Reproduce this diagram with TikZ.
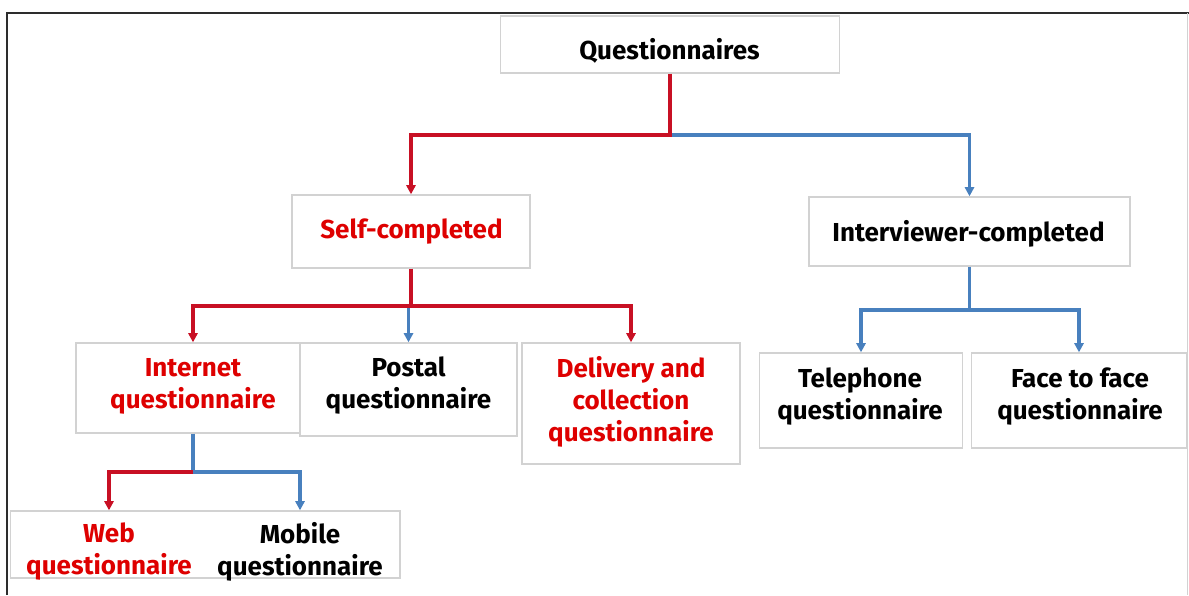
\documentclass[tikz,border=0pt]{standalone}
\usepackage{fontspec}
\setmainfont{Fira Sans}
\usetikzlibrary{arrows.meta}
\definecolor{linered}{RGB}{200,16,36}
\definecolor{lineblue}{RGB}{72,128,190}
\definecolor{textred}{RGB}{222,0,0}
\definecolor{boxgray}{RGB}{210,210,210}
\definecolor{framegray}{RGB}{45,45,45}
\newcommand\pxl[1]{#1*0.5pt}

\begin{document}
\begin{tikzpicture}[x=0.5pt,y=-0.5pt,
  box/.style={draw=boxgray, line width=0.7pt, fill=white, inner sep=0pt},
  lbl/.style={font=\fontsize{13}{16}\selectfont\bfseries, align=center, inner sep=0pt, text=black},
  redlbl/.style={lbl, text=textred},
  conn/.style={line width=1.6pt, line join=miter},
  redline/.style={conn, draw=linered},
  blueline/.style={conn, draw=lineblue},
  tip/.style={-{Triangle[width=4.6pt,length=4.6pt]}},
]
\useasboundingbox (0,0) rectangle (1189,595);

% outer frame
\draw[framegray, line width=1.4pt] (7,595) -- (7,13) -- (1189,13);
\draw[boxgray, line width=0.7pt] (1187.5,13) -- (1187.5,595);

% boxes
\node[box, minimum width=\pxl{339}, minimum height=\pxl{57}] (q) at (670,44.5) {};
\node[box, minimum width=\pxl{238}, minimum height=\pxl{73}] (self) at (411,231.5) {};
\node[box, minimum width=\pxl{321}, minimum height=\pxl{69}] (inter) at (969.5,231.5) {};
\node[box, minimum width=\pxl{234}, minimum height=\pxl{90}] (internet) at (193,388) {};
\node[box, minimum width=\pxl{217}, minimum height=\pxl{93}] (postal) at (408.5,389.5) {};
\node[box, minimum width=\pxl{218}, minimum height=\pxl{121}] (deliv) at (631,403.5) {};
\node[box, minimum width=\pxl{203.5}, minimum height=\pxl{95}] (tel) at (861,400.5) {};
\node[box, minimum width=\pxl{215.5}, minimum height=\pxl{95}] (face) at (1079,400.5) {};
\node[box, minimum width=\pxl{389.3}, minimum height=\pxl{67}] (wm) at (205.4,544.5) {};

% labels
\node[lbl] (qt) at (669.5,51) {Questionnaires};
\node[redlbl] (selft) at (411.5,232) {Self-completed};
\node[lbl] (intert) at (968.5,234) {Interviewer-completed};
\node[redlbl] (internett) at (193,386) {Internet\\questionnaire};
\node[lbl] (postalt) at (408.5,386) {Postal\\questionnaire};
\node[redlbl] (delivt) at (631,402) {Delivery and\\collection\\questionnaire};
\node[lbl] (telt) at (860,396.5) {Telephone\\questionnaire};
\node[lbl] (facet) at (1080,396.5) {Face to face\\questionnaire};
\node[redlbl] (webt) at (109,552) {Web\\questionnaire};
\node[lbl] (mobt) at (300,552) {Mobile\\questionnaire};

% branch points
\coordinate (j1) at (670,135);
\coordinate (j2) at (411,306);
\coordinate (j3) at (969.5,310);
\coordinate (j4) at (193,472);

% connectors
\draw[blueline, tip] (j1) -| (inter.north);
\draw[redline, tip] (q.south) -- (j1) -| (self.north);

\draw[blueline, tip] (j2) -| (postal.north);
\draw[redline, tip] (self.south) -- (j2) -| (internet.north);
\draw[redline, tip] (j2) -| (deliv.north);

\draw[blueline, tip] (inter.south) -- (j3) -| (tel.north);
\draw[blueline, tip] (j3) -| (face.north);

\draw[blueline] (internet.south) -- (j4);
\draw[blueline, tip] (j4) -| (wm.north -| mobt);
\draw[redline, tip] (j4) -| (wm.north -| webt);
\end{tikzpicture}
\end{document}
